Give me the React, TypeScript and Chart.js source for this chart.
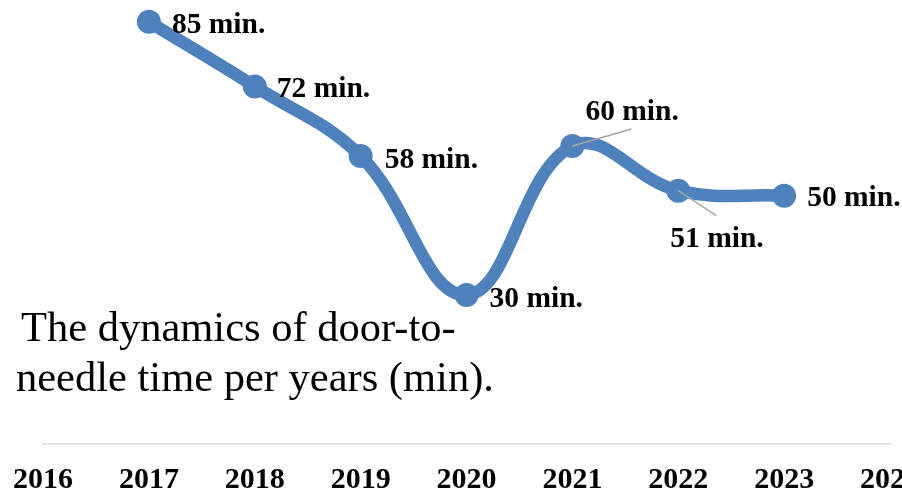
import React, { useEffect, useRef } from "react";
import { Chart, registerables } from "chart.js";

Chart.register(...registerables);

const years = ["2016", "2017", "2018", "2019", "2020", "2021", "2022", "2023", "2024"];
const doorToNeedle = [null, 85, 72, 58, 30, 60, 51, 50, null];
const labelSuffix = " min.";
const titleLines = ["The dynamics of door-to-", "needle time per years (min)."];

// label placement relative to each point: [dx, baselineDy, leaderX, leaderY]
const labelPlacement: (number[] | null)[] = [
  null,
  [23, 11, 0, 0],
  [22, 11, 0, 0],
  [24, 12, 0, 0],
  [23, 12, 0, 0],
  [13, -26, 59, -17],
  [-8, 56, 38, 25],
  [23, 10, 0, 0],
  null,
];

const dataLabelPlugin = {
  id: "dataLabelsCustom",
  afterDatasetsDraw(chart: any) {
    const ctx = chart.ctx;
    const meta = chart.getDatasetMeta(0);
    const data = chart.data.datasets[0].data;
    ctx.save();
    meta.data.forEach((pt: any, i: number) => {
      const v = data[i];
      const pl = labelPlacement[i];
      if (v == null || !pl) return;
      const x = pt.x;
      const y = pt.y;
      if (pl[2] !== 0 || pl[3] !== 0) {
        ctx.strokeStyle = "#a6a6a6";
        ctx.lineWidth = 1.5;
        ctx.beginPath();
        ctx.moveTo(x, y);
        ctx.lineTo(x + pl[2], y + pl[3]);
        ctx.stroke();
      }
      ctx.fillStyle = "#000000";
      ctx.font = "bold 29.5px 'Liberation Serif', 'Times New Roman', serif";
      ctx.textAlign = "left";
      ctx.textBaseline = "alphabetic";
      ctx.fillText(String(v) + labelSuffix, x + pl[0], y + pl[1]);
    });
    ctx.restore();
  },
};

export default function App() {
  const canvasRef = useRef<HTMLCanvasElement | null>(null);

  useEffect(() => {
    document.body.style.overflow = "hidden";
    const canvas = canvasRef.current;
    if (!canvas) return;
    const chart = new Chart(canvas, {
      type: "line",
      data: {
        labels: years,
        datasets: [
          {
            data: doorToNeedle,
            borderColor: "#4f81bd",
            backgroundColor: "#4f81bd",
            borderWidth: 12.5,
            pointRadius: 12,
            pointBorderWidth: 0,
            pointBackgroundColor: "#4f81bd",
            tension: 0.4,
            fill: false,
            clip: false as any,
          },
        ],
      },
      options: {
        animation: false,
        responsive: false,
        maintainAspectRatio: false,
        devicePixelRatio: 1,
        layout: { autoPadding: false, padding: { left: 0, right: 0, top: 0, bottom: 0 } },
        plugins: {
          legend: { display: false },
          tooltip: { enabled: false },
          title: { display: false },
        },
        scales: {
          x: {
            type: "category",
            offset: false,
            grid: { display: false, drawTicks: false },
            border: { display: true, color: "#d9d9d9", width: 1.5 },
            ticks: {
              color: "#000000",
              padding: 18,
              maxRotation: 0,
              autoSkip: false,
              font: { family: "'Liberation Serif', 'Times New Roman', serif", size: 30, weight: "bold" },
            },
          },
          y: {
            display: false,
            min: 0,
            max: 90,
          },
        },
      },
      plugins: [dataLabelPlugin],
    });
    return () => chart.destroy();
  }, []);

  return (
    <div style={{ position: "absolute", left: -5, top: -3, width: 943, height: 519 }}>
      <canvas ref={canvasRef} width={943} height={519} style={{ display: "block" }} />
      <div
        style={{
          position: "absolute",
          left: 21,
          top: 305,
          fontFamily: "'Liberation Serif', 'Times New Roman', serif",
          fontSize: 42.5,
          lineHeight: "50px",
          textIndent: 5,
          color: "#000",
          whiteSpace: "nowrap",
        }}
      >
        {titleLines[0]}
        <br />
        {titleLines[1]}
      </div>
    </div>
  );
}
